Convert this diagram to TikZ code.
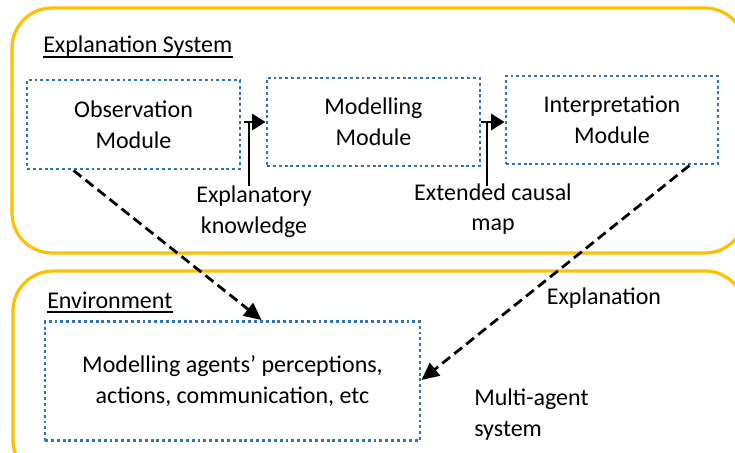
\documentclass[tikz,border=0pt]{standalone}
\usepackage{fontspec}
\setmainfont{Carlito}
\usetikzlibrary{arrows.meta}
\definecolor{orng}{HTML}{FFC000}
\definecolor{dotblue}{HTML}{2E75B6}
\begin{document}
\begin{tikzpicture}[x=0.75pt,y=-0.75pt,
  txt/.style={font=\fontsize{18}{23}\selectfont, align=center, inner sep=0pt},
  group/.style={draw=orng, line width=2.4pt, rounded corners=30pt},
  module/.style={txt, draw=dotblue, line width=2.2pt, dash pattern=on 2.2pt off 2.2pt},
  solidarrow/.style={-{Triangle[length=10pt,width=12pt]}, line width=2pt},
  feed/.style={line width=2pt},
  dasharrow/.style={-{Triangle[length=13pt,width=12pt]}, line width=2.1pt, dash pattern=on 7.5pt off 4pt},
  uline/.style={line width=1.1pt}
]
\useasboundingbox (0,0) rectangle (735,453);
% group frames
\draw[group] (12,8) rectangle (745,253);
\draw[group] (13,271) rectangle (745,480);

% titles
\node[txt, anchor=base west] (es) at (43,53) {Explanation System};
\draw[uline] ([yshift=-3pt]es.base west) -- ([yshift=-3pt]es.base east);
\node[txt, anchor=base west] (envt) at (47,308) {Environment};
\draw[uline] ([yshift=-3pt]envt.base west) -- ([yshift=-3pt]envt.base east);

% modules
\node[module, minimum width=159.75pt, minimum height=66.75pt] (obs) at (133.5,124.5) {Observation\\Module};
\node[module, minimum width=159.75pt, minimum height=66pt] (mod) at (373.5,122) {Modelling\\Module};
\node[module, minimum width=159pt, minimum height=66pt] (int) at (612,120) {Interpretation\\Module};
\node[module, minimum width=281.25pt, minimum height=89.25pt] (env) at (232.5,381) {Modelling agents’ perceptions,\\actions, communication, etc};

% solid arrows with feeding labels
\draw[solidarrow] ([xshift=2pt]obs.east |- mod.west) -- (mod.west);
\coordinate (j1) at (249,122);
\node[txt] (lab1) at (254,212) {Explanatory\\knowledge};
\draw[feed] (lab1.north -| j1) -- (j1);

\draw[solidarrow] (mod.east) -- (mod.east -| int.west);
\coordinate (j2) at (487,122);
\node[txt] (lab2) at (493,209) {Extended causal\\map};
\draw[feed] ([yshift=-2pt]lab2.north -| j2) -- (j2);

% dashed arrows
\draw[dasharrow] ([xshift=36pt]obs.south west) -- ([xshift=163.5pt]env.north west);
\draw[dasharrow] ([xshift=-22.5pt]int.south east) -- ([yshift=0.75pt]env.east);

% other labels
\node[txt, anchor=base] (explan) at (604,304) {Explanation};
\node[txt, align=left, anchor=base west] (mas) at (474,436) {Multi-agent\\system};
\end{tikzpicture}
\end{document}
